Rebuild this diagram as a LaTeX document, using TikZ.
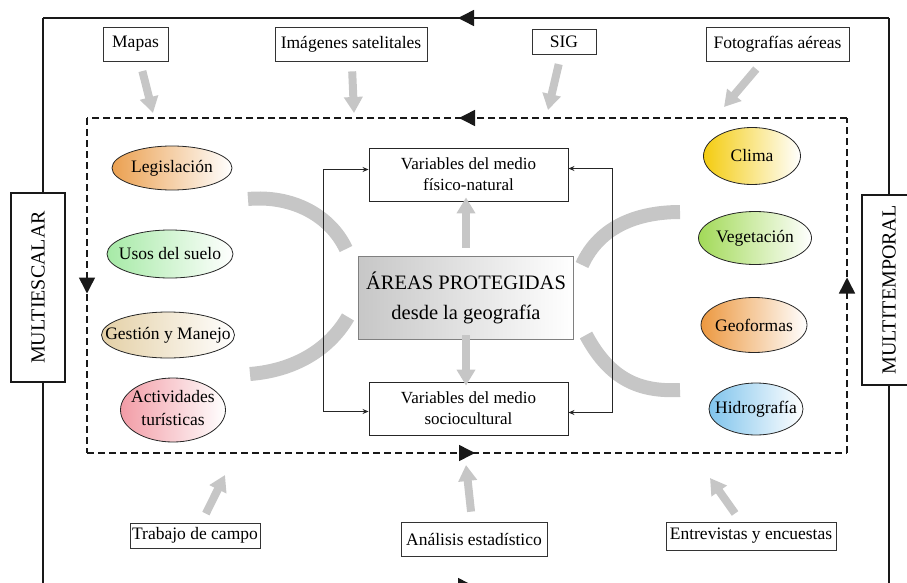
\documentclass[tikz,border=0pt]{standalone}
\usepackage{fontspec}
\setmainfont{Liberation Serif}
\usetikzlibrary{shapes.geometric,arrows.meta,decorations.markings}

\definecolor{bandgray}{HTML}{C6C6C6}
\definecolor{cLeg}{HTML}{EBA050}
\definecolor{cUsos}{HTML}{A6EAA6}
\definecolor{cGest}{HTML}{E4D0A6}
\definecolor{cAct}{HTML}{F29CA6}
\definecolor{cClima}{HTML}{F4CC10}
\definecolor{cVeg}{HTML}{A2DA58}
\definecolor{cGeo}{HTML}{EC9840}
\definecolor{cHidro}{HTML}{80C4EC}

\begin{document}
\begin{tikzpicture}
[x=1pt,y=-1pt,
 every node/.style={font=\fontsize{17.5}{19}\selectfont},
 tool/.style={rectangle,draw=black!80,line width=0.8pt,fill=white,inner sep=0pt},
 varbox/.style={rectangle,draw=black!85,line width=0.9pt,fill=white,align=center,inner sep=0pt,
   minimum width=199pt,minimum height=53pt,font=\fontsize{17}{21}\selectfont},
 theme/.style={ellipse,draw=black!85,line width=0.8pt,inner sep=0pt,right color=white},
 multi/.style={rectangle,draw=black!90,line width=1.2pt,fill=white,rotate=90,inner sep=0pt,
   minimum height=54pt,font=\fontsize{20}{22}\selectfont},
 grayarrow/.style={draw=bandgray,line width=8pt,-{Triangle[width=18pt,length=16pt]},shorten <=10pt},
 band/.style={draw=bandgray,line width=14pt},
 link/.style={draw=black!85,line width=0.8pt,{Stealth[length=6pt,width=5pt]}-{Stealth[length=6pt,width=5pt]}},
 midarrow/.style={postaction={decorate},decoration={markings,
   mark=at position 0.5 with {\arrow[xshift=8pt]{Triangle[length=16pt,width=16pt]}}}},
 outer/.style={draw=black!90,line width=1.5pt},
 inner/.style={draw=black!90,line width=1.5pt,dash pattern=on 7pt off 4pt}]

  \useasboundingbox (0,0) rectangle (907,583);

  % frames
  \coordinate (o1) at (889,18);
  \coordinate (o2) at (43,18);
  \coordinate (o3) at (43,586);
  \coordinate (o4) at (889,586);
  \foreach \from/\to in {o1/o2,o2/o3,o3/o4,o4/o1}
    \draw[outer,midarrow] (\from) -- (\to);

  \coordinate (d1) at (847,118);
  \coordinate (d2) at (87,118);
  \coordinate (d3) at (87,453);
  \coordinate (d4) at (847,453);
  \foreach \from/\to in {d1/d2,d2/d3,d3/d4,d4/d1}
    \draw[inner,midarrow] (\from) -- (\to);

  \node[multi,minimum width=189pt] (escalar) at (38,287.5) {MULTIESCALAR};
  \node[multi,minimum width=190pt] (temporal) at (889,290) {MULTITEMPORAL};

  % sources
  \node[tool,minimum width=65pt,minimum height=34pt] (mapas) at (135.5,44) {Mapas};
  \node[tool,minimum width=152pt,minimum height=34pt] (sat) at (351,44) {Imágenes satelitales};
  \node[tool,minimum width=64pt,minimum height=25pt] (sig) at (564,41.5) {SIG};
  \node[tool,minimum width=143pt,minimum height=34pt] (foto) at (777.5,44) {Fotografías aéreas};
  \node[tool,minimum width=130pt,minimum height=25pt] (campo) at (195,535.5) {Trabajo de campo};
  \node[tool,minimum width=146pt,minimum height=34pt] (analisis) at (474,539) {Análisis estadístico};
  \node[tool,minimum width=170pt,minimum height=28pt] (entrev) at (751,536) {Entrevistas y encuestas};

  \coordinate (ta1) at (153,113);
  \coordinate (ta2) at (354,113);
  \coordinate (ta3) at (548,110);
  \coordinate (ta4) at (724,107);
  \coordinate (ta5) at (225,475);
  \coordinate (ta6) at (466,465);
  \coordinate (ta7) at (710,478);
  \foreach \from/\to in {mapas/ta1,sat/ta2,sig/ta3,foto/ta4,campo/ta5,analisis/ta6,entrev/ta7}
    \draw[grayarrow] (\from) -- (\to);

  % themes
  \node[theme,left color=cLeg,minimum width=120pt,minimum height=44pt] (leg) at (172,168) {\makebox[0pt]{Legislación}};
  \node[theme,left color=cUsos,minimum width=126pt,minimum height=48pt] (usos) at (170,254) {\makebox[0pt]{Usos del suelo}};
  \node[theme,left color=cGest,minimum width=133pt,minimum height=46pt] (gest) at (168,335) {\makebox[0pt]{Gestión y Manejo}};
  \node[theme,left color=cAct,minimum width=105pt,minimum height=64pt] (activ) at (173,410)
    {\makebox[0pt]{\begin{tabular}{@{}c@{}}Actividades\\[4pt]turísticas\end{tabular}}};
  \node[theme,left color=cClima,minimum width=97pt,minimum height=57pt] (clima) at (752,156) {\makebox[0pt]{Clima}};
  \node[theme,left color=cVeg,minimum width=113pt,minimum height=53pt] (veg) at (755,238) {\makebox[0pt]{Vegetación}};
  \node[theme,left color=cGeo,minimum width=106pt,minimum height=55pt] (geof) at (754,325) {\makebox[0pt]{Geoformas}};
  \node[theme,left color=cHidro,minimum width=94pt,minimum height=52pt] (hidro) at (756,409) {\makebox[0pt]{Hidrografía}};

  % centre
  \node[rectangle,draw=black!50,line width=0.8pt,left color=black!22,right color=white,align=center,
    minimum width=215pt,minimum height=83pt,inner sep=0pt,font=\fontsize{20.5}{30}\selectfont]
    (centro) at (466,297.5) {ÁREAS PROTEGIDAS\\desde la geografía};
  \node[varbox] (fisico) at (468.5,174.5) {Variables del medio\\físico-natural};
  \node[varbox] (socio) at (468.5,408.5) {Variables del medio\\sociocultural};

  \draw[grayarrow,shorten <=0pt] ([yshift=8pt]centro.north) -- ([yshift=4pt]centro.north |- fisico.south);
  \draw[grayarrow,shorten <=0pt] ([yshift=4pt]centro.south) -- ([yshift=-4pt]centro.south |- socio.north);

  % bands
  \draw[band] (248,199) .. controls (292,195) and (330,215) .. (346,249);
  \draw[band] (250,374) .. controls (300,370) and (332,345) .. (348,317);
  \draw[band] (582,265) .. controls (600,225) and (640,212) .. (680,212);
  \draw[band] (586,335) .. controls (610,380) and (640,392) .. (680,390);

  \draw[link] ([yshift=5pt]fisico.west) -- ++(-45,0) |- ([yshift=-3pt]socio.west);
  \draw[link] ([yshift=6pt]fisico.east) -- ++(44,0) |- ([yshift=-4pt]socio.east);
\end{tikzpicture}
\end{document}
